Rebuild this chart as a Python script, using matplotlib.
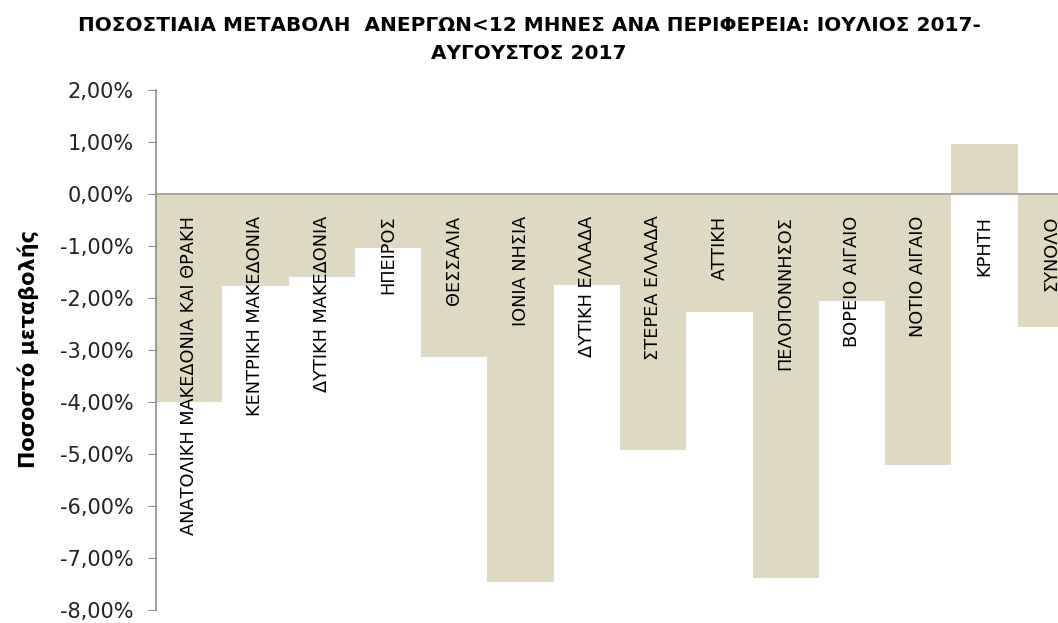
import numpy as np
import matplotlib
matplotlib.use('Agg')
import matplotlib.pyplot as plt
from matplotlib.ticker import FuncFormatter

plt.rcParams['font.family'] = ['DejaVu Sans']

regions = ['ΑΝΑΤΟΛΙΚΗ ΜΑΚΕΔΟΝΙΑ ΚΑΙ ΘΡΑΚΗ', 'ΚΕΝΤΡΙΚΗ ΜΑΚΕΔΟΝΙΑ', 'ΔΥΤΙΚΗ ΜΑΚΕΔΟΝΙΑ',
           'ΗΠΕΙΡΟΣ', 'ΘΕΣΣΑΛΙΑ', 'ΙΟΝΙΑ ΝΗΣΙΑ', 'ΔΥΤΙΚΗ ΕΛΛΑΔΑ', 'ΣΤΕΡΕΑ ΕΛΛΑΔΑ',
           'ΑΤΤΙΚΗ', 'ΠΕΛΟΠΟΝΝΗΣΟΣ', 'ΒΟΡΕΙΟ ΑΙΓΑΙΟ', 'ΝΟΤΙΟ ΑΙΓΑΙΟ', 'ΚΡΗΤΗ', 'ΣΥΝΟΛΟ']
change = [-4.00, -1.78, -1.61, -1.04, -3.14, -7.48, -1.76, -4.93,
          -2.28, -7.40, -2.06, -5.23, 0.96, -2.56]
yticks = np.arange(-8, 3, 1)

title = 'ΠΟΣΟΣΤΙΑΙΑ ΜΕΤΑΒΟΛΗ  ΑΝΕΡΓΩΝ<12 ΜΗΝΕΣ ΑΝΑ ΠΕΡΙΦΕΡΕΙΑ: ΙΟΥΛΙΟΣ 2017-\nΑΥΓΟΥΣΤΟΣ 2017'

fig = plt.figure(figsize=(10.58, 6.23), dpi=100)
# axes runs past the right edge, last bar is cut like in the original
ax = fig.add_axes([156 / 1058, 1 - 609.5 / 623, 928 / 1058, 520 / 623])

x = np.arange(len(regions))
ax.bar(x, change, width=1.0, color='#ddd9c3', edgecolor='none', zorder=2)
ax.axhline(0, color='#9a9a9a', lw=1.2, zorder=3)

for xi, name in zip(x, regions):
    ax.annotate(name, (xi, 0), xytext=(0, -16), textcoords='offset points',
                rotation=90, ha='center', va='top', fontsize=12.8, color='black', zorder=4)

ax.set_xlim(-0.5, len(regions) - 0.5)
ax.set_ylim(-8, 2)
ax.set_yticks(yticks)
ax.yaxis.set_major_formatter(FuncFormatter(lambda v, p: ('%.2f%%' % v).replace('.', ',')))
ax.tick_params(axis='y', direction='out', length=6, color='#8c8c8c', labelsize=15,
               labelcolor='#222222', pad=10)
ax.set_xticks([])
for s in ['top', 'right', 'bottom']:
    ax.spines[s].set_visible(False)
ax.spines['left'].set_color('#8c8c8c')
ax.spines['left'].set_linewidth(1.2)

fig.text(0.5, 0.975, title, ha='center', va='top', fontsize=14.4, fontweight='bold',
         linespacing=1.6)
fig.text(0.027, 0.44, 'Ποσοστό μεταβολής', rotation=90, ha='center', va='center',
         fontsize=15, fontweight='bold')

fig.savefig('out.png', dpi=100)
